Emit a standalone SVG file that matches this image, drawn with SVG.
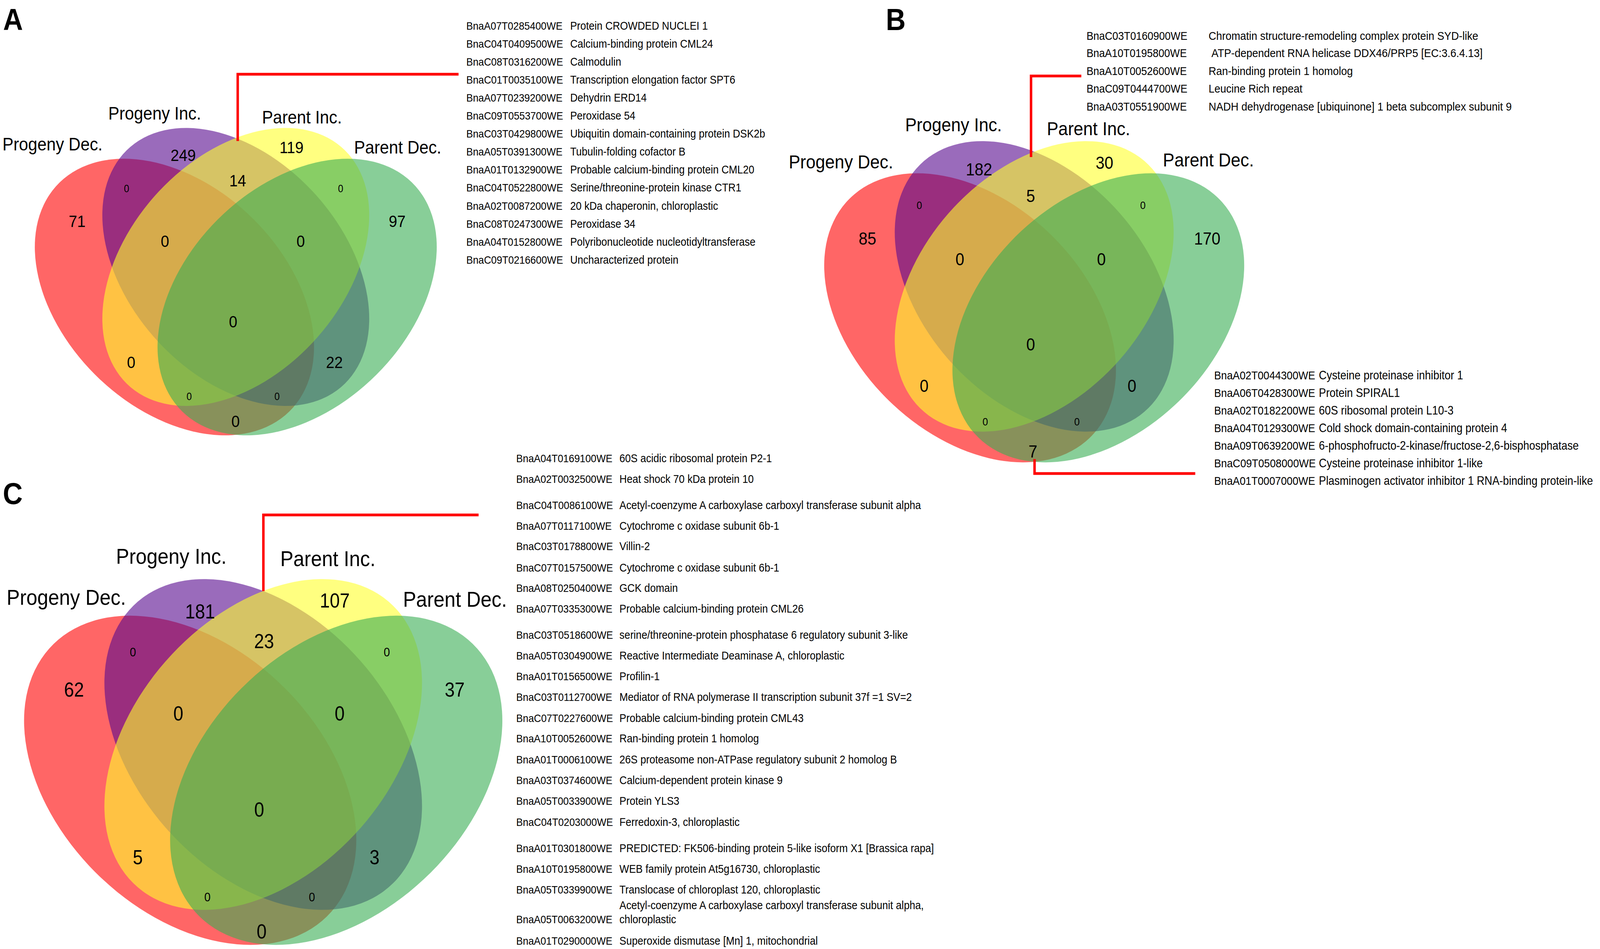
<svg xmlns="http://www.w3.org/2000/svg" width="4550" height="2429" viewBox="0 0 4550 2429" preserveAspectRatio="none">
<style>
svg{width:100vw;height:100vh}
text{font-family:'Liberation Sans',Arial,sans-serif;fill:#000}
.e{fill-opacity:0.6;stroke:none}
.r{fill:#FF0000}.p{fill:#57088E}.y{fill:#FFFF2B}.g{fill:#39AD53}
.panel{font-weight:bold;font-size:78px}
.n{text-anchor:middle}
.lead{fill:none;stroke:#FF0000;stroke-width:7;stroke-linejoin:miter}
</style>
<rect width="4550" height="2429" fill="#ffffff"/>

<!-- Panel A -->
<g id="panelA">
<text class="panel" x="9" y="77">A</text>
<g id="A-venn" transform="translate(670.5 683.25)">
<ellipse class="e r" transform="translate(-174.5 77) rotate(36.2)" rx="441.4" ry="296.8"/>
<ellipse class="e p" transform="rotate(40.08)" rx="431.7" ry="290.2"/>
<ellipse class="e y" transform="rotate(-40.08)" rx="431.7" ry="290.2"/>
<ellipse class="e g" transform="translate(174.5 77) rotate(-36.2)" rx="441.4" ry="296.8"/>
</g>
<g id="A-labels" font-size="47">
<text x="7" y="385">Progeny Dec.</text>
<text x="308" y="306">Progeny Inc.</text>
<text x="745" y="316">Parent Inc.</text>
<text x="1007" y="393">Parent Dec.</text>
</g>
<g id="A-counts" font-size="43">
<text class="n" x="521" y="412">249</text>
<text class="n" x="676" y="477">14</text>
<text class="n" x="829" y="392">119</text>
<text class="n" x="219.5" y="581">71</text>
<text class="n" x="1129.6" y="581">97</text>
<text class="n" x="469" y="632">0</text>
<text class="n" x="855" y="632">0</text>
<text class="n" x="663" y="838">0</text>
<text class="n" x="373" y="942">0</text>
<text class="n" x="951" y="942">22</text>
<text class="n" x="670" y="1093">0</text>
<text class="n" x="360" y="492.5" font-size="27">0</text>
<text class="n" x="968.6" y="492.5" font-size="27">0</text>
<text class="n" x="538" y="1023.6" font-size="27">0</text>
<text class="n" x="787.8" y="1023.6" font-size="27">0</text>
</g>
<g id="A-genes" font-size="29">
<text y="75.6"><tspan x="1326" font-size="28.3">BnaA07T0285400WE</tspan><tspan x="1621.5">Protein CROWDED NUCLEI 1</tspan></text>
<text y="121.7"><tspan x="1326" font-size="28.3">BnaC04T0409500WE</tspan><tspan x="1621.5">Calcium-binding protein CML24</tspan></text>
<text y="167.8"><tspan x="1326" font-size="28.3">BnaC08T0316200WE</tspan><tspan x="1621.5">Calmodulin</tspan></text>
<text y="213.9"><tspan x="1326" font-size="28.3">BnaC01T0035100WE</tspan><tspan x="1621.5">Transcription elongation factor SPT6</tspan></text>
<text y="260"><tspan x="1326" font-size="28.3">BnaA07T0239200WE</tspan><tspan x="1621.5">Dehydrin ERD14</tspan></text>
<text y="306.1"><tspan x="1326" font-size="28.3">BnaC09T0553700WE</tspan><tspan x="1621.5">Peroxidase 54</tspan></text>
<text y="352.2"><tspan x="1326" font-size="28.3">BnaC03T0429800WE</tspan><tspan x="1621.5">Ubiquitin domain-containing protein DSK2b</tspan></text>
<text y="398.3"><tspan x="1326" font-size="28.3">BnaA05T0391300WE</tspan><tspan x="1621.5">Tubulin-folding cofactor B</tspan></text>
<text y="444.4"><tspan x="1326" font-size="28.3">BnaA01T0132900WE</tspan><tspan x="1621.5">Probable calcium-binding protein CML20</tspan></text>
<text y="490.5"><tspan x="1326" font-size="28.3">BnaC04T0522800WE</tspan><tspan x="1621.5">Serine/threonine-protein kinase CTR1</tspan></text>
<text y="536.6"><tspan x="1326" font-size="28.3">BnaA02T0087200WE</tspan><tspan x="1621.5">20 kDa chaperonin, chloroplastic</tspan></text>
<text y="582.7"><tspan x="1326" font-size="28.3">BnaC08T0247300WE</tspan><tspan x="1621.5">Peroxidase 34</tspan></text>
<text y="628.8"><tspan x="1326" font-size="28.3">BnaA04T0152800WE</tspan><tspan x="1621.5">Polyribonucleotide nucleotidyltransferase</tspan></text>
<text y="674.9"><tspan x="1326" font-size="28.3">BnaC09T0216600WE</tspan><tspan x="1621.5">Uncharacterized protein</tspan></text>
</g>
</g>

<!-- Panel B -->
<g id="panelB">
<text class="panel" x="2519" y="77">B</text>
<g id="B-venn" transform="translate(2941 733) scale(1.045)">
<ellipse class="e r" transform="translate(-174.5 77) rotate(36.2)" rx="441.4" ry="296.8"/>
<ellipse class="e p" transform="rotate(40.08)" rx="431.7" ry="290.2"/>
<ellipse class="e y" transform="rotate(-40.08)" rx="431.7" ry="290.2"/>
<ellipse class="e g" transform="translate(174.5 77) rotate(-36.2)" rx="441.4" ry="296.8"/>
</g>
<g id="B-labels" font-size="49">
<text x="2243" y="431">Progeny Dec.</text>
<text x="2574" y="336">Progeny Inc.</text>
<text x="2977" y="346">Parent Inc.</text>
<text x="3307" y="426">Parent Dec.</text>
</g>
<g id="B-counts" font-size="45">
<text class="n" x="2784" y="449.5">182</text>
<text class="n" x="3141" y="432">30</text>
<text class="n" x="2467" y="626.4">85</text>
<text class="n" x="3433" y="626.4">170</text>
<text class="n" x="2931" y="517">5</text>
<text class="n" x="2729.5" y="679">0</text>
<text class="n" x="3132" y="679">0</text>
<text class="n" x="2931" y="897.5">0</text>
<text class="n" x="2628" y="1003.5">0</text>
<text class="n" x="3219" y="1003.5">0</text>
<text class="n" x="2937.5" y="1171">7</text>
<text class="n" x="2614.3" y="535" font-size="28">0</text>
<text class="n" x="3250" y="535" font-size="28">0</text>
<text class="n" x="2801.8" y="1089" font-size="28">0</text>
<text class="n" x="3062.5" y="1089" font-size="28">0</text>
</g>
<g id="B-genes-top" font-size="30">
<text y="101.9"><tspan x="3089.7" font-size="29.5">BnaC03T0160900WE</tspan><tspan x="3437">Chromatin structure-remodeling complex protein SYD-like</tspan></text>
<text y="146.5"><tspan x="3089.7" font-size="29.5">BnaA10T0195800WE</tspan><tspan x="3445">ATP-dependent RNA helicase DDX46/PRP5 [EC:3.6.4.13]</tspan></text>
<text y="192.5"><tspan x="3089.7" font-size="29.5">BnaA10T0052600WE</tspan><tspan x="3437">Ran-binding protein 1 homolog</tspan></text>
<text y="237.1"><tspan x="3089.7" font-size="29.5">BnaC09T0444700WE</tspan><tspan x="3437">Leucine Rich repeat</tspan></text>
<text y="283"><tspan x="3089.7" font-size="29.5">BnaA03T0551900WE</tspan><tspan x="3437">NADH dehydrogenase [ubiquinone] 1 beta subcomplex subunit 9</tspan></text>
</g>
<g id="B-genes-bottom" font-size="30.5">
<text y="970.9"><tspan x="3452.8" font-size="29.7">BnaA02T0044300WE</tspan><tspan x="3750.6">Cysteine proteinase inhibitor 1</tspan></text>
<text y="1015.9"><tspan x="3452.8" font-size="29.7">BnaA06T0428300WE</tspan><tspan x="3750.6">Protein SPIRAL1</tspan></text>
<text y="1060.9"><tspan x="3452.8" font-size="29.7">BnaA02T0182200WE</tspan><tspan x="3750.6">60S ribosomal protein L10-3</tspan></text>
<text y="1105.9"><tspan x="3452.8" font-size="29.7">BnaA04T0129300WE</tspan><tspan x="3750.6">Cold shock domain-containing protein 4</tspan></text>
<text y="1150.9"><tspan x="3452.8" font-size="29.7">BnaA09T0639200WE</tspan><tspan x="3750.6">6-phosphofructo-2-kinase/fructose-2,6-bisphosphatase</tspan></text>
<text y="1195.9"><tspan x="3452.8" font-size="29.7">BnaC09T0508000WE</tspan><tspan x="3750.6">Cysteine proteinase inhibitor 1-like</tspan></text>
<text y="1240.9"><tspan x="3452.8" font-size="29.7">BnaA01T0007000WE</tspan><tspan x="3750.6">Plasminogen activator inhibitor 1 RNA-binding protein-like</tspan></text>
</g>
</g>

<!-- Panel C -->
<g id="panelC">
<text class="panel" x="8" y="1290">C</text>
<g id="C-venn" transform="translate(748.5 1905.5) scale(1.19)">
<ellipse class="e r" transform="translate(-174.5 77) rotate(36.2)" rx="441.4" ry="296.8"/>
<ellipse class="e p" transform="rotate(40.08)" rx="431.7" ry="290.2"/>
<ellipse class="e y" transform="rotate(-40.08)" rx="431.7" ry="290.2"/>
<ellipse class="e g" transform="translate(174.5 77) rotate(-36.2)" rx="441.4" ry="296.8"/>
</g>
<g id="C-labels" font-size="56">
<text x="19" y="1548">Progeny Dec.</text>
<text x="330" y="1443">Progeny Inc.</text>
<text x="797" y="1449">Parent Inc.</text>
<text x="1146" y="1553">Parent Dec.</text>
</g>
<g id="C-counts" font-size="51">
<text class="n" x="569" y="1583">181</text>
<text class="n" x="952" y="1555">107</text>
<text class="n" x="751" y="1659">23</text>
<text class="n" x="210.5" y="1783">62</text>
<text class="n" x="1293" y="1783">37</text>
<text class="n" x="507" y="1844">0</text>
<text class="n" x="966" y="1844">0</text>
<text class="n" x="737" y="2090">0</text>
<text class="n" x="392" y="2212">5</text>
<text class="n" x="1065" y="2212">3</text>
<text class="n" x="744" y="2402">0</text>
<text class="n" x="378" y="1680" font-size="32">0</text>
<text class="n" x="1100" y="1680" font-size="32">0</text>
<text class="n" x="590" y="2307" font-size="32">0</text>
<text class="n" x="887" y="2307" font-size="32">0</text>
</g>
<g id="C-genes" font-size="29">
<text y="1183"><tspan x="1468" font-size="28.3">BnaA04T0169100WE</tspan><tspan x="1761.6">60S acidic ribosomal protein P2-1</tspan></text>
<text y="1235.6"><tspan x="1468" font-size="28.3">BnaA02T0032500WE</tspan><tspan x="1761.6">Heat shock 70 kDa protein 10</tspan></text>
<text y="1303"><tspan x="1468" font-size="28.3">BnaC04T0086100WE</tspan><tspan x="1761.6">Acetyl-coenzyme A carboxylase carboxyl transferase subunit alpha</tspan></text>
<text y="1355.6"><tspan x="1468" font-size="28.3">BnaA07T0117100WE</tspan><tspan x="1761.6">Cytochrome c oxidase subunit 6b-1</tspan></text>
<text y="1408.2"><tspan x="1468" font-size="28.3">BnaC03T0178800WE</tspan><tspan x="1761.6">Villin-2</tspan></text>
<text y="1462.9"><tspan x="1468" font-size="28.3">BnaC07T0157500WE</tspan><tspan x="1761.6">Cytochrome c oxidase subunit 6b-1</tspan></text>
<text y="1515.5"><tspan x="1468" font-size="28.3">BnaA08T0250400WE</tspan><tspan x="1761.6">GCK domain</tspan></text>
<text y="1568.1"><tspan x="1468" font-size="28.3">BnaA07T0335300WE</tspan><tspan x="1761.6">Probable calcium-binding protein CML26</tspan></text>
<text y="1635.4"><tspan x="1468" font-size="28.3">BnaC03T0518600WE</tspan><tspan x="1761.6">serine/threonine-protein phosphatase 6 regulatory subunit 3-like</tspan></text>
<text y="1688.1"><tspan x="1468" font-size="28.3">BnaA05T0304900WE</tspan><tspan x="1761.6">Reactive Intermediate Deaminase A, chloroplastic</tspan></text>
<text y="1740.7"><tspan x="1468" font-size="28.3">BnaA01T0156500WE</tspan><tspan x="1761.6">Profilin-1</tspan></text>
<text y="1793.9"><tspan x="1468" font-size="28.3">BnaC03T0112700WE</tspan><tspan x="1761.6">Mediator of RNA polymerase II transcription subunit 37f =1 SV=2</tspan></text>
<text y="1848.1"><tspan x="1468" font-size="28.3">BnaC07T0227600WE</tspan><tspan x="1761.6">Probable calcium-binding protein CML43</tspan></text>
<text y="1900.5"><tspan x="1468" font-size="28.3">BnaA10T0052600WE</tspan><tspan x="1761.6">Ran-binding protein 1 homolog</tspan></text>
<text y="1953.9"><tspan x="1468" font-size="28.3">BnaA01T0006100WE</tspan><tspan x="1761.6">26S proteasome non-ATPase regulatory subunit 2 homolog B</tspan></text>
<text y="2007.2"><tspan x="1468" font-size="28.3">BnaA03T0374600WE</tspan><tspan x="1761.6">Calcium-dependent protein kinase 9</tspan></text>
<text y="2060.5"><tspan x="1468" font-size="28.3">BnaA05T0033900WE</tspan><tspan x="1761.6">Protein YLS3</tspan></text>
<text y="2113.9"><tspan x="1468" font-size="28.3">BnaC04T0203000WE</tspan><tspan x="1761.6">Ferredoxin-3, chloroplastic</tspan></text>
<text y="2180.8"><tspan x="1468" font-size="28.3">BnaA01T0301800WE</tspan><tspan x="1761.6">PREDICTED: FK506-binding protein 5-like isoform X1 [Brassica rapa]</tspan></text>
<text y="2234.2"><tspan x="1468" font-size="28.3">BnaA10T0195800WE</tspan><tspan x="1761.6">WEB family protein At5g16730, chloroplastic</tspan></text>
<text y="2286.7"><tspan x="1468" font-size="28.3">BnaA05T0339900WE</tspan><tspan x="1761.6">Translocase of chloroplast 120, chloroplastic</tspan></text>
<text x="1761.6" y="2327.2">Acetyl-coenzyme A carboxylase carboxyl transferase subunit alpha,</text>
<text y="2363.5"><tspan x="1468" font-size="28.3">BnaA05T0063200WE</tspan><tspan x="1761.6">chloroplastic</tspan></text>
<text y="2417.7"><tspan x="1468" font-size="28.3">BnaA01T0290000WE</tspan><tspan x="1761.6">Superoxide dismutase [Mn] 1, mitochondrial</tspan></text>
</g>
</g>

<!-- Connectors -->
<g id="connectors">
<path class="lead" d="M676 361 V190 H1304"/>
<path class="lead" d="M2932 402 V194.5 H3075"/>
<path class="lead" d="M2942 1175 V1212 H3399"/>
<path class="lead" d="M749 1513 V1318 H1361"/>
</g>
</svg>
